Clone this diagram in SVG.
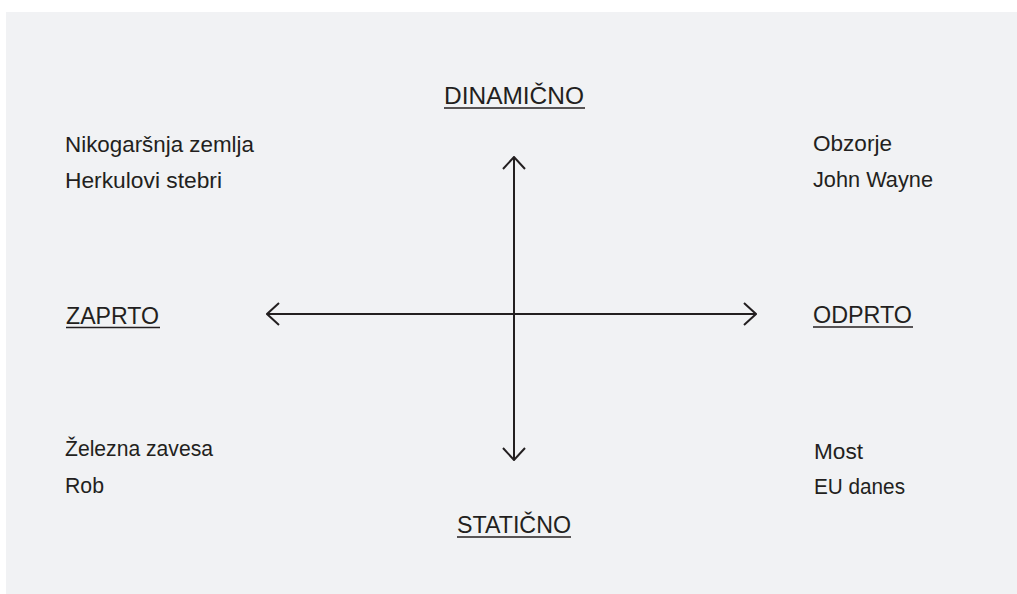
<svg xmlns="http://www.w3.org/2000/svg" width="1017" height="594" viewBox="0 0 1017 594">
<style>
text{font-family:"Liberation Sans",Arial,sans-serif;font-size:22.5px;fill:#231f20}
text.lb{font-size:24px}
.ax{stroke:#231f20;stroke-width:2;fill:none}
.ul{stroke:#231f20;stroke-width:1.4}
</style>
<defs>
<marker id="ah" viewBox="0 0 14 24" refX="13" refY="12" markerWidth="14" markerHeight="24" markerUnits="userSpaceOnUse" orient="auto">
<path d="M1,1 L13,12 L1,23" fill="none" stroke="#231f20" stroke-width="2"/>
</marker>
</defs>
<rect x="6" y="12" width="1011" height="582" fill="#f1f2f4"/>
<g id="connectors">
<line class="ax" x1="514" y1="314" x2="514" y2="157" marker-end="url(#ah)"/>
<line class="ax" x1="514" y1="314" x2="514" y2="460" marker-end="url(#ah)"/>
<line class="ax" x1="514" y1="314" x2="267" y2="314" marker-end="url(#ah)"/>
<line class="ax" x1="514" y1="314" x2="756" y2="314" marker-end="url(#ah)"/>
</g>
<g id="dinamicno"><text class="lb" x="444" y="104" textLength="140" lengthAdjust="spacingAndGlyphs">DINAMIČNO</text><line class="ul" x1="444" y1="108" x2="585" y2="108"/></g>
<g id="staticno"><text class="lb" x="457" y="533" textLength="114" lengthAdjust="spacingAndGlyphs">STATIČNO</text><line class="ul" x1="457" y1="537" x2="571" y2="537"/></g>
<g id="zaprto"><text class="lb" x="66" y="324" textLength="93" lengthAdjust="spacingAndGlyphs">ZAPRTO</text><line class="ul" x1="66" y1="327.5" x2="160" y2="327.5"/></g>
<g id="odprto"><text class="lb" x="813" y="323" textLength="99" lengthAdjust="spacingAndGlyphs">ODPRTO</text><line class="ul" x1="813" y1="327" x2="913" y2="327"/></g>
<g id="top-left"><text x="65" y="152" textLength="189" lengthAdjust="spacingAndGlyphs">Nikogaršnja zemlja</text><text x="65" y="188" textLength="157" lengthAdjust="spacingAndGlyphs">Herkulovi stebri</text></g>
<g id="top-right"><text x="813" y="151" textLength="79" lengthAdjust="spacingAndGlyphs">Obzorje</text><text x="813" y="187" textLength="120" lengthAdjust="spacingAndGlyphs">John Wayne</text></g>
<g id="bottom-left"><text x="65" y="456" textLength="148" lengthAdjust="spacingAndGlyphs">Železna zavesa</text><text x="65" y="493" textLength="39" lengthAdjust="spacingAndGlyphs">Rob</text></g>
<g id="bottom-right"><text x="814" y="459" textLength="49" lengthAdjust="spacingAndGlyphs">Most</text><text x="814" y="494" textLength="91" lengthAdjust="spacingAndGlyphs">EU danes</text></g>
</svg>
